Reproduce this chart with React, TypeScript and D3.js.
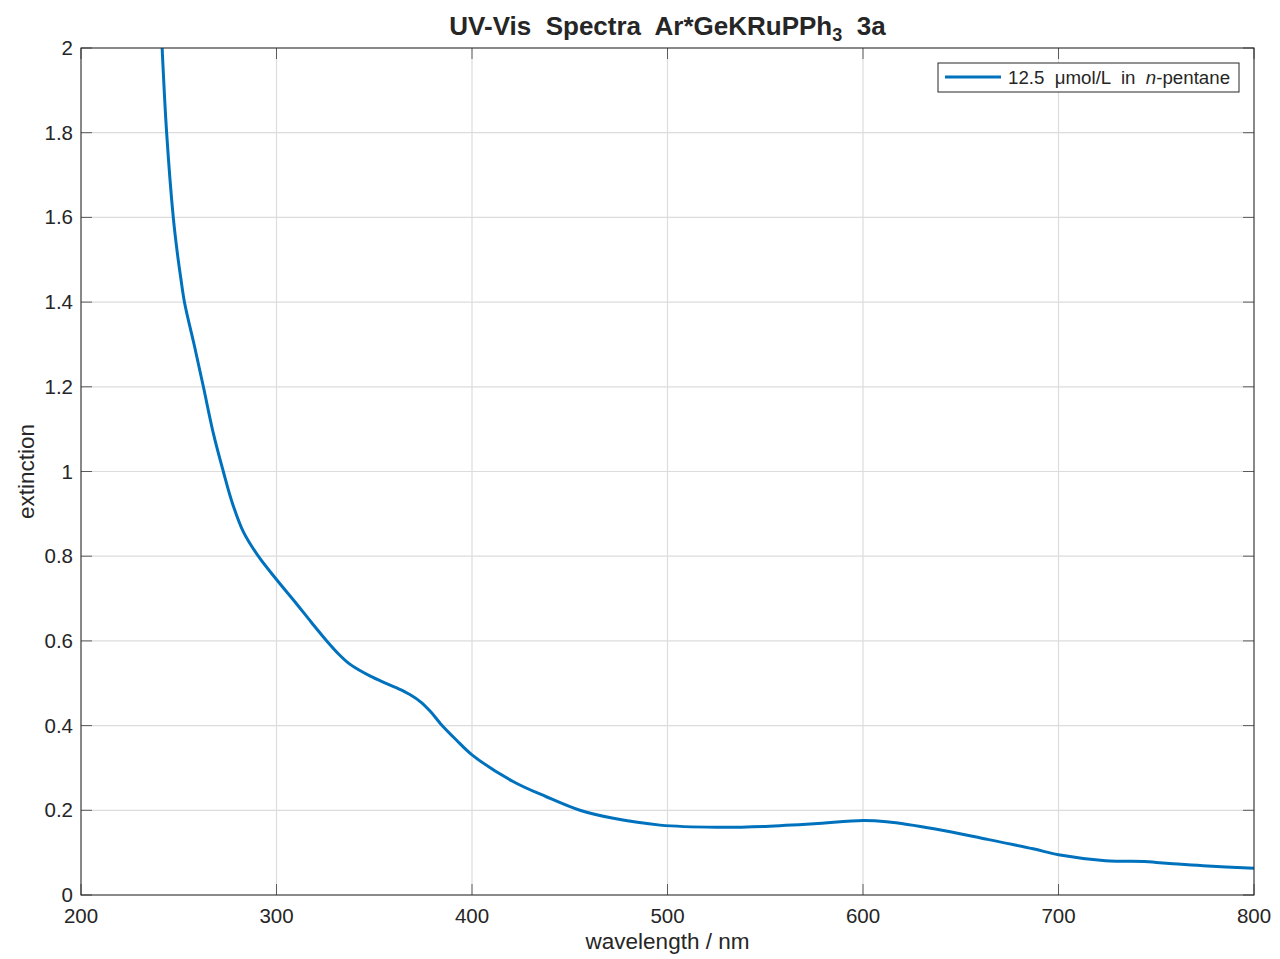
import React from "react";
import * as d3 from "d3";

const wavelengths = [241.5, 243.8, 247.2, 249.3, 251, 253, 257.8, 262.6, 267.7, 272.8, 277.1, 283, 290.7, 300, 309.5, 318, 325.7, 332, 337, 342, 348, 354, 362, 368, 374, 379, 384, 392, 400, 421, 438, 455.2, 472.3, 496.2, 525, 550, 575, 600, 612, 637, 662, 687, 700, 724, 744, 750, 761, 774, 800];
const extinction = [2.0, 1.8, 1.6, 1.515, 1.458, 1.398, 1.301, 1.2, 1.09, 1.0, 0.93, 0.858, 0.8, 0.745, 0.692, 0.643, 0.6, 0.568, 0.547, 0.532, 0.517, 0.504, 0.488, 0.474, 0.455, 0.432, 0.404, 0.366, 0.331, 0.268, 0.232, 0.2, 0.181, 0.165, 0.16, 0.162, 0.168, 0.176, 0.173, 0.156, 0.133, 0.109, 0.095, 0.081, 0.079, 0.077, 0.073, 0.069, 0.063];
const xTicks = [200, 300, 400, 500, 600, 700, 800];
const yTicks = [0, 0.2, 0.4, 0.6, 0.8, 1, 1.2, 1.4, 1.6, 1.8, 2];

const W = 1280, H = 959;
const L = 81, R = 1254, T = 48, B = 895;
const AX = "#262626";
const GRID = "#dcdcdc";
const FONT = "'Liberation Sans', Arial, sans-serif";

export default function App() {
  const x = d3.scaleLinear().domain([200, 800]).range([L, R]);
  const y = d3.scaleLinear().domain([0, 2]).range([B, T]);
  const pts = wavelengths.map((w, i) => [w, extinction[i]] as [number, number]);
  const line = d3.line<[number, number]>().x(d => x(d[0])).y(d => y(d[1])).curve(d3.curveCatmullRom.alpha(0.5));
  const tl = 11;
  return (
    <svg width={W} height={H} style={{ position: "absolute", left: 0, top: 0, background: "#fff" }} fontFamily={FONT}>
      <rect x={0} y={0} width={W} height={H} fill="#fff" />
      {xTicks.map(t => (
        <line key={"gx" + t} x1={x(t)} x2={x(t)} y1={T} y2={B} stroke={GRID} strokeWidth={1.2} />
      ))}
      {yTicks.map(t => (
        <line key={"gy" + t} x1={L} x2={R} y1={y(t)} y2={y(t)} stroke={GRID} strokeWidth={1.2} />
      ))}
      <defs>
        <clipPath id="clip"><rect x={L} y={T} width={R - L} height={B - T} /></clipPath>
      </defs>
      <path d={line(pts) || ""} fill="none" stroke="#0072BD" strokeWidth={3} clipPath="url(#clip)" strokeLinejoin="round" />
      {xTicks.map(t => (
        <g key={"tx" + t}>
          <line x1={x(t)} x2={x(t)} y1={B} y2={B - tl} stroke={AX} strokeWidth={1} opacity={0.7} />
          <line x1={x(t)} x2={x(t)} y1={T} y2={T + tl} stroke={AX} strokeWidth={1} opacity={0.7} />
          <text x={x(t)} y={B + 28} textAnchor="middle" fontSize={20.5} fill={AX}>{t}</text>
        </g>
      ))}
      {yTicks.map(t => (
        <g key={"ty" + t}>
          <line x1={L} x2={L + tl} y1={y(t)} y2={y(t)} stroke={AX} strokeWidth={1} opacity={0.7} />
          <line x1={R} x2={R - tl} y1={y(t)} y2={y(t)} stroke={AX} strokeWidth={1} opacity={0.7} />
          <text x={L - 8} y={y(t) + 7} textAnchor="end" fontSize={20.5} fill={AX}>{d3.format("")(t)}</text>
        </g>
      ))}
      <rect x={L} y={T} width={R - L} height={B - T} fill="none" stroke={AX} strokeWidth={1} />
      <text x={(L + R) / 2} y={35} textAnchor="middle" fontSize={26} fontWeight="bold" fill={AX} style={{ whiteSpace: "pre" }}>
        UV-Vis  Spectra  Ar*GeKRuPPh<tspan fontSize={18} dy={6}>3</tspan><tspan dy={-6}>  3a</tspan>
      </text>
      <text x={(L + R) / 2} y={949} textAnchor="middle" fontSize={22.5} fill={AX}>wavelength / nm</text>
      <text transform={`translate(34,${(T + B) / 2}) rotate(-90)`} textAnchor="middle" fontSize={22.5} fill={AX}>extinction</text>
      <g>
        <rect x={938} y={63} width={301} height={29} fill="#fff" stroke={AX} strokeWidth={1} />
        <line x1={945} x2={1001} y1={77} y2={77} stroke="#0072BD" strokeWidth={3} />
        <text x={1008} y={84} fontSize={18.7} fill={AX} style={{ whiteSpace: "pre" }}>
          12.5  μmol/L  in  <tspan fontStyle="italic">n</tspan>-pentane
        </text>
      </g>
    </svg>
  );
}
